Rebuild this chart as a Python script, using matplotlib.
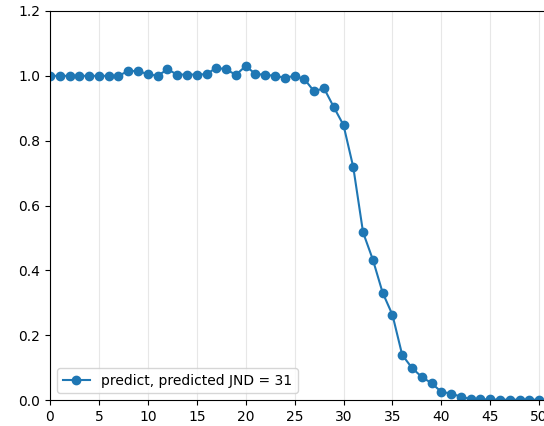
import matplotlib
matplotlib.use("Agg")
import matplotlib.pyplot as plt
import numpy as np

# model output per distortion level
levels = list(range(51))
predict = [
    1.0, 1.0, 1.0, 1.0, 1.0, 1.0, 1.0, 1.0, 1.015, 1.015,
    1.005, 1.0, 1.02, 1.004, 1.004, 1.004, 1.005, 1.025, 1.02, 1.003,
    1.03, 1.006, 1.003, 1.0, 0.994, 1.0, 0.99, 0.952, 0.962, 0.904,
    0.848, 0.718, 0.517, 0.433, 0.331, 0.263, 0.139, 0.099, 0.071, 0.052,
    0.025, 0.02, 0.01, 0.003, 0.002, 0.002, 0.001, 0.001, 0.001, 0.001,
    0.001,
]
jnd = 31


def main():
    fig = plt.figure(figsize=(5.44, 4.26), dpi=100)
    # axes run a little past the right edge, like the cropped original
    ax = fig.add_axes([50 / 544, 26 / 426, 497 / 544, 389 / 426])

    ax.plot(levels, predict, marker="o", color="C0",
            label=f"predict, predicted JND = {jnd}")

    ax.set_xlim(0, 50.8)
    ax.set_ylim(0, 1.2)
    ax.set_xticks(np.arange(0, 51, 5))
    ax.set_yticks(np.arange(0, 1.21, 0.2))
    ax.grid(axis="x", alpha=0.3)
    ax.legend(loc="lower left")

    fig.savefig("out.png", dpi=100)


if __name__ == "__main__":
    main()
